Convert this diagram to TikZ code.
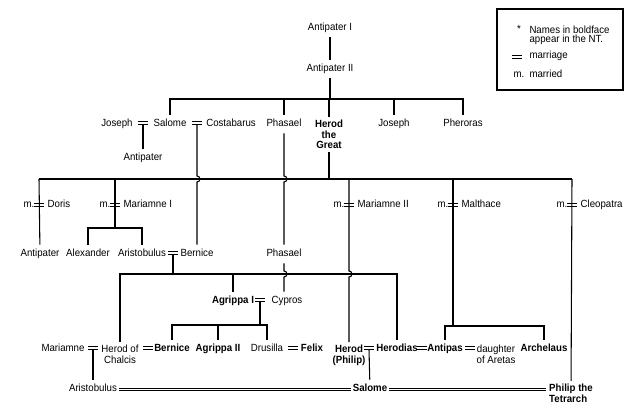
\documentclass[tikz,border=0pt]{standalone}
\usepackage{fontspec}
\setmainfont[FakeStretch=0.93]{Liberation Sans}
\usetikzlibrary{positioning, calc}

\begin{document}
\begin{tikzpicture}[
    x=0.75pt, y=-0.75pt,
    line width=0.8pt,
    txt/.style={inner sep=2pt, font=\fontsize{7.8}{7.8}\selectfont},
    ntb/.style={font=\fontsize{7.8}{7.8}\selectfont\bfseries},
    person/.style={txt, text height=5.6pt, text depth=1.6pt, outer sep=1.5pt},
    nt/.style={person, ntb},
    multi/.style={txt, align=center, anchor=north},
    wedline/.style={line width=0.55pt, shorten <=-2pt},
    wed/.pic={\draw (-5,-1.5) -- (5,-1.5) (-5,1.5) -- (5,1.5);}
]
\useasboundingbox (0,0) rectangle (640,410);

% key
\draw (497,9) rectangle (623,90);
\node[txt, anchor=base] (star) at (519,33) {*};
\node[txt, align=left, anchor=north west] (boldnote) at (526.3,23) {Names in boldface\\[-1pt]appear in the NT.};
\pic at (517,57) {wed};
\node[txt, anchor=base west] (marriage) at (526.3,59) {marriage};
\node[txt, anchor=base west] (mkey) at (510.3,78) {m.};
\node[txt, anchor=base west] (married) at (526.3,78) {married};

% bars
\coordinate (sib) at (0,99);
\coordinate (wives) at (0,179);
\coordinate (kids1) at (0,228);
\coordinate (kids2) at (0,274);
\coordinate (kids4) at (0,325);
\coordinate (kids3) at (0,326);

% Antipater I and II
\node[person] (antip1) at (330,28) {Antipater I};
\node[person] (antip2) at (330,69) {Antipater II};
\draw (antip1) -- (antip2);
\draw (antip2) -- (antip2 |- sib);

% children of Antipater II
\node[person] (joseph1) at (117,124) {Joseph};
\node[person] (salome1) at (170,124) {Salome};
\node[person] (costab) at (231,124) {Costabarus};
\node[person] (phasael1) at (284,124) {Phasael};
\node[multi, ntb] (herod) at (329,117) {Herod\\the\\Great};
\node[person] (joseph2) at (394,124) {Joseph};
\node[person] (pheroras) at (463,124) {Pheroras};
\coordinate (mJS) at (143,123);
\coordinate (mSC) at (197,123);
\pic at (mJS) {wed};
\pic at (mSC) {wed};

\draw (salome1) |- (sib -| pheroras) -- (pheroras);
\foreach \n in {phasael1, herod, joseph2}
  \draw (\n) -- (\n |- sib);

\node[person] (antipJ) at (143,158) {Antipater};
\draw (mJS) ++(0,1.5) -- (antipJ);

% wives of Herod
\foreach \w/\x in {w1/39, w2/115, w3/349, w4/453, w5/572}
  \coordinate (\w) at (\x,205);
\node[person, left=0pt of w1] (m1) {m.};
\node[person, right=3pt of w1] (doris) {Doris};
\node[person, left=0pt of w2] (m2) {m.};
\node[person, right=3pt of w2] (mariamne1) {Mariamne I};
\node[person, left=0pt of w3] (m3) {m.};
\node[person, right=3pt of w3] (mariamne2) {Mariamne II};
\node[person, left=0pt of w4] (m4) {m.};
\node[person, right=3pt of w4] (malthace) {Malthace};
\node[person, left=0pt of w5] (m5) {m.};
\node[person, right=3pt of w5] (cleopatra) {Cleopatra};
\foreach \w in {w1, w2, w3, w4, w5}
  \pic at (\w) {wed};

\draw (herod) -- (herod |- wives);
\draw (w1 |- wives) -- (w5 |- wives);

% next generation
\node[person] (antipD) at (40,254) {Antipater};
\node[person] (alexander) at (88,254) {Alexander};
\node[person] (aristob1) at (142,254) {Aristobulus};
\node[person] (bernice1) at (197,254) {Bernice};
\node[person] (phasael2) at (284,254) {Phasael};
\coordinate (mAB) at (173,253);
\pic at (mAB) {wed};

\draw (w1 |- wives) -- (antipD);
\draw (w2 |- wives) -- (w2 |- kids1);
\draw (alexander) |- (kids1 -| aristob1) -- (aristob1);
% lines that hop over the bar of wives
\draw (mSC) ++(0,1.5) -- ($(mSC |- wives)+(0,-3)$) arc[start angle=-90, end angle=90, radius=3] -- (bernice1);
\draw (phasael1) -- ($(phasael1 |- wives)+(0,-3)$) arc[start angle=-90, end angle=90, radius=3] -- (phasael2);

% Agrippa I
\node[nt] (agrippa1) at (233,301) {Agrippa I};
\node[person] (cypros) at (287,301) {Cypros};
\coordinate (mAC) at (260,300);
\pic at (mAC) {wed};

% row of grandchildren
\node[person] (mariamne) at (63,349) {Mariamne};
\node[multi] (herodC) at (120,342) {Herod of\\Chalcis};
\node[nt] (bernice2) at (172,349) {Bernice};
\node[nt] (agrippa2) at (218,349) {Agrippa II};
\node[person] (drusilla) at (267,349) {Drusilla};
\node[nt] (felix) at (312,349) {Felix};
\node[multi, ntb] (herodP) at (349,342) {Herod\\(Philip)};
\node[nt] (herodias) at (397,349) {Herodias};
\node[nt] (antipas) at (445,349) {Antipas};
\node[multi] (daughter) at (496,342) {daughter\\of Aretas};
\node[nt] (archelaus) at (544,349) {Archelaus};
\foreach \m/\x in {mMH/93, mHB/148, mDF/293, mHH/369, mHA/422, mAD/470} {
  \coordinate (\m) at (\x,348);
  \pic at (\m) {wed};
}

\draw (mAB) ++(0,1.5) -- (mAB |- kids2);
\draw (herodC) |- (kids2 -| herodias) -- (herodias);
\draw (agrippa1) -- (agrippa1 |- kids2);
\draw (phasael2) -- ($(phasael2 |- kids2)+(0,-3)$) arc[start angle=-90, end angle=90, radius=3] -- (phasael2 |- cypros.north);
\draw (w3 |- wives) -- ($(w3 |- kids2)+(0,-3)$) arc[start angle=-90, end angle=90, radius=3] -- (herodP);

\draw (mAC) ++(0,1.5) -- (mAC |- kids4);
\draw (bernice2) |- (kids4 -| drusilla) -- (drusilla);
\draw (agrippa2) -- (agrippa2 |- kids4);

\draw (w4 |- wives) -- (w4 |- kids3);
\draw (antipas) |- (kids3 -| archelaus) -- (archelaus);

% bottom row
\node[person] (aristob2) at (93,389) {Aristobulus};
\node[nt] (salome2) at (370,389) {Salome};
\node[multi, ntb, align=left] (philip) at (571,381) {Philip the\\Tetrarch};

\draw (mMH) ++(0,1.5) -- (aristob2);
\draw (mHH) ++(0,1.5) -- (salome2);
\draw (w5 |- wives) -- (philip);
% double lines of marriage
\foreach \s in {-0.8pt, 0.8pt} {
  \draw[wedline, shorten >=-2pt, transform canvas={yshift=\s}] (aristob2) -- (salome2);
  \draw[wedline, transform canvas={yshift=\s}] (salome2) -- (salome2 -| philip.west);
}
\end{tikzpicture}
\end{document}
